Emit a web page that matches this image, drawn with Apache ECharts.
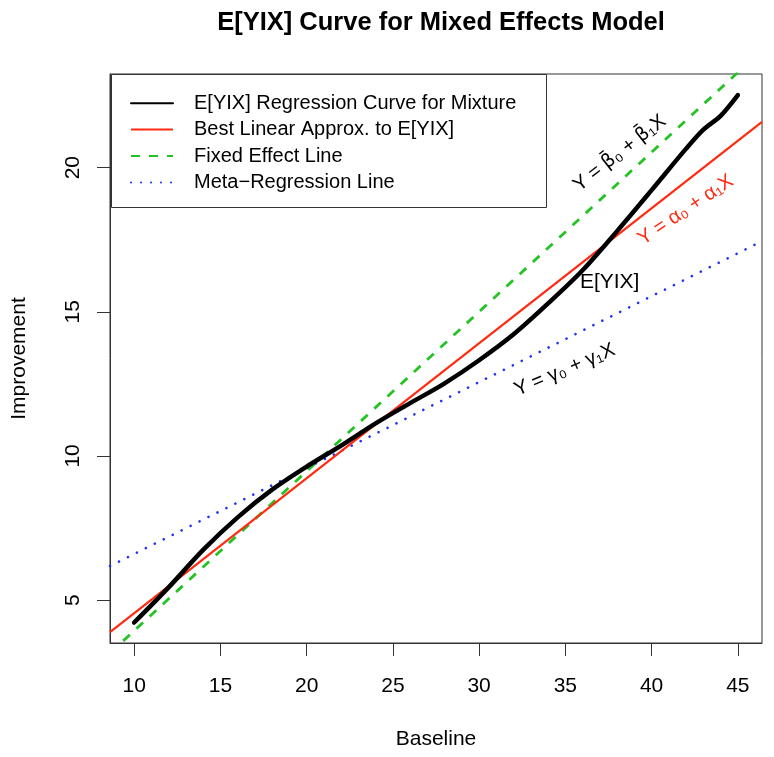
<!DOCTYPE html>
<html>
<head>
<meta charset="utf-8">
<script src="https://cdn.jsdelivr.net/npm/echarts@6/dist/echarts.min.js"></script>
<style>
html,body{margin:0;padding:0;background:#fff;}
#chart{width:774px;height:757px;}
</style>
</head>
<body>
<div id="chart"></div>
<script>
// ---- data ----
const xTicks = [10, 15, 20, 25, 30, 35, 40, 45];
const yTicks = [5, 10, 15, 20];

// E[Y|X] regression curve for mixture
const curveX = [10, 12, 14, 16, 18, 20, 22, 24, 26, 28, 30, 32, 34, 36, 38, 40, 42, 43, 44, 45];
const curveY = [4.22, 5.44, 6.74, 7.87, 8.83, 9.63, 10.36, 11.13, 11.83, 12.52, 13.32, 14.22, 15.29, 16.44, 17.80, 19.22, 20.66, 21.32, 21.8, 22.52];

// straight lines, end points at the plot edges (x = 8.6 and 46.4)
const lineX = [8.6, 46.4];
const bestLinearY = [3.89, 21.59];
const fixedEffectY = [3.16, 24.08];
const metaRegY = [6.18, 17.45];

const seriesNames = [
  'E[YIX] Regression Curve for Mixture',
  'Best Linear Approx. to E[YIX]',
  'Fixed Effect Line',
  'Meta\u2212Regression Line'
];

// annotation texts (rich-text markup) and their anchor points (data coords)
const annoText = [
  'Y = {b|\u03B2\u0304}\u2080 + {b|\u03B2\u0304}\u2081X',
  'Y = \u03B1\u2080 + \u03B1\u2081X',
  'E[YIX]',
  'Y = \u03B3\u2080 + \u03B3\u2081X'
];
const annoX = [38.15, 41.98, 37.57, 34.96];
const annoY = [20.5, 18.53, 16.03, 12.98];
const annoRot = [38, 34, 0, 23];
const annoColor = ['#000000', '#ff2a10', '#000000', '#000000'];

const FONT = '"Liberation Sans", Arial, Helvetica, sans-serif';

function pairs(xs, ys) { return xs.map((x, i) => [x, ys[i]]); }

const chart = echarts.init(document.getElementById('chart'), null, {renderer: 'canvas'});

const option = {
  backgroundColor: '#ffffff',
  animation: false,
  title: {
    text: 'E[YIX] Curve for Mixed Effects Model',
    left: 436,
    textAlign: 'center',
    top: 5,
    textStyle: {fontFamily: FONT, fontSize: 25.5, fontWeight: 'bold', color: '#000'}
  },
  grid: {
    left: 110, right: 12, top: 74, bottom: 114,
    show: true, borderColor: '#333', borderWidth: 1, backgroundColor: 'transparent'
  },
  legend: {
    data: seriesNames,
    orient: 'vertical',
    left: 130,
    top: 90,
    itemWidth: 42,
    itemHeight: 14,
    itemGap: 0,
    padding: 0,
    itemStyle: {color: 'rgba(0,0,0,0)', borderColor: 'rgba(0,0,0,0)', borderWidth: 0},
    textStyle: {fontFamily: FONT, fontSize: 20, color: '#000', lineHeight: 26.4, padding: [0, 0, 0, 16]},
    selectedMode: false
  },
  graphic: [{
    type: 'rect',
    z: 1,
    shape: {x: 111.5, y: 74.5, width: 435, height: 133},
    style: {fill: '#fff', stroke: '#333', lineWidth: 1}
  }],
  xAxis: {
    type: 'value',
    min: 8.6, max: 46.4,
    name: 'Baseline',
    nameLocation: 'middle',
    nameGap: 86,
    nameTextStyle: {fontFamily: FONT, fontSize: 21, color: '#000'},
    axisLine: {show: true, lineStyle: {color: '#333', width: 1}},
    axisTick: {show: true, length: 13, customValues: xTicks, lineStyle: {color: '#333', width: 1}},
    axisLabel: {customValues: xTicks, margin: 33, fontFamily: FONT, fontSize: 21, color: '#000'},
    splitLine: {show: false}
  },
  yAxis: {
    type: 'value',
    min: 3.51, max: 23.25,
    name: 'Improvement',
    nameLocation: 'middle',
    nameGap: 80,
    nameRotate: 90,
    nameTextStyle: {fontFamily: FONT, fontSize: 21, color: '#000'},
    axisLine: {show: true, lineStyle: {color: '#333', width: 1}},
    axisTick: {show: true, length: 13, customValues: yTicks, lineStyle: {color: '#333', width: 1}},
    axisLabel: {customValues: yTicks, rotate: 90, margin: 26, fontFamily: FONT, fontSize: 21, color: '#000'},
    splitLine: {show: false}
  },
  series: [
    {
      name: seriesNames[0], type: 'line', data: pairs(curveX, curveY),
      showSymbol: false, symbol: 'none', smooth: 0.3, z: 5,
      lineStyle: {color: '#000', width: 4.5, cap: 'round'}, itemStyle: {color: '#000'}
    },
    {
      name: seriesNames[1], type: 'line', data: pairs(lineX, bestLinearY),
      showSymbol: false, symbol: 'none', z: 4, clip: true,
      lineStyle: {color: '#ff2a10', width: 2.2}, itemStyle: {color: '#ff2a10'}
    },
    {
      name: seriesNames[2], type: 'line', data: pairs(lineX, fixedEffectY),
      showSymbol: false, symbol: 'none', z: 3, clip: true,
      lineStyle: {color: '#22c322', width: 2.8, type: [9, 9]}, itemStyle: {color: '#22c322'}
    },
    {
      name: seriesNames[3], type: 'line', data: pairs(lineX, metaRegY),
      showSymbol: false, symbol: 'none', z: 3, clip: true,
      lineStyle: {color: '#2233ee', width: 2.6, type: [0.1, 9.9], cap: 'round'}, itemStyle: {color: '#2233ee'}
    },
    {
      name: 'annotations', type: 'scatter', symbolSize: 0, z: 6,
      itemStyle: {color: '#000', opacity: 1},
      silent: true,
      data: annoText.map((t, i) => ({
        value: [annoX[i], annoY[i]],
        label: {
          show: true, formatter: t, position: 'inside', rotate: annoRot[i],
          align: 'center', verticalAlign: 'middle', opacity: 1,
          fontFamily: FONT, fontSize: i === 2 ? 21 : 20, color: annoColor[i],
          rich: {b: {fontFamily: '"DejaVu Sans", sans-serif', fontSize: 19, color: annoColor[i]}}
        }
      }))
    }
  ]
};
chart.setOption(option);
</script>
</body>
</html>
